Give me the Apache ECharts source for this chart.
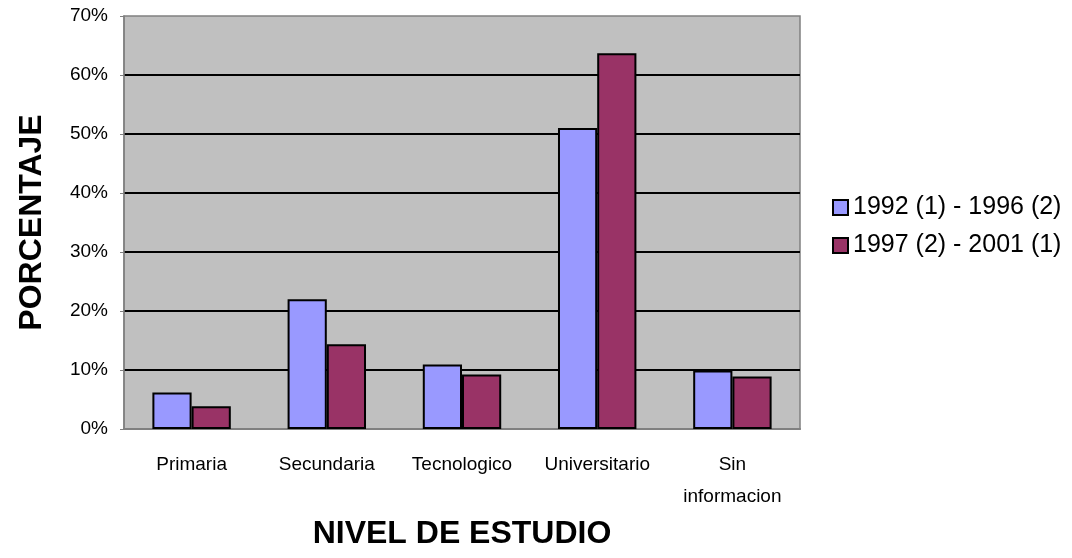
<!DOCTYPE html>
<html>
<head>
<meta charset="utf-8">
<script src="https://cdn.jsdelivr.net/npm/echarts@6/dist/echarts.min.js"></script>
<style>
html,body{margin:0;padding:0;background:#fff;}
#chart{width:1072px;height:558px;}
</style>
</head>
<body>
<div id="chart"></div>
<script>
var categories = ["Primaria", "Secundaria", "Tecnologico", "Universitario", "Sin\ninformacion"];
var seriesNames = ["1992 (1) - 1996 (2)", "1997 (2) - 2001 (1)"];
var periodo1 = [6.2, 22.0, 10.95, 51.0, 9.9];
var periodo2 = [3.85, 14.35, 9.25, 63.7, 8.9];
var yTicks = [0, 10, 20, 30, 40, 50, 60, 70];

var chart = echarts.init(document.getElementById("chart"));
chart.setOption({
    animation: false,
    textStyle: { fontFamily: "Liberation Sans, Arial, sans-serif" },
    grid: {
        left: 124,
        right: 272,
        top: 16,
        bottom: 129,
        show: true,
        backgroundColor: "#C0C0C0",
        borderColor: "#808080",
        borderWidth: 1.5
    },
    legend: {
        orient: "vertical",
        left: 827,
        top: 190,
        itemWidth: 15,
        itemHeight: 15,
        itemGap: 13,
        icon: "rect",
        textStyle: { fontSize: 25, color: "#000" },
        data: seriesNames
    },
    xAxis: {
        type: "category",
        data: categories,
        name: "NIVEL DE ESTUDIO",
        nameLocation: "middle",
        nameGap: 82,
        nameTextStyle: { fontSize: 32, fontWeight: "bold", color: "#000" },
        axisLine: { lineStyle: { color: "#808080", width: 2 } },
        axisTick: { show: false },
        axisLabel: { fontSize: 19, color: "#000", margin: 20, lineHeight: 32, interval: 0 }
    },
    yAxis: {
        type: "value",
        min: yTicks[0],
        max: yTicks[yTicks.length - 1],
        interval: 10,
        name: "PORCENTAJE",
        nameLocation: "middle",
        nameGap: 76,
        nameTextStyle: { fontSize: 32, fontWeight: "bold", color: "#000" },
        axisLine: { show: true, lineStyle: { color: "#808080", width: 1.5 } },
        axisTick: { show: true, length: 4, lineStyle: { color: "#808080" } },
        axisLabel: { fontSize: 19, color: "#000", margin: 16, formatter: "{value}%" },
        splitLine: { show: true, showMinLine: false, showMaxLine: false, lineStyle: { color: "#000", width: 2 } }
    },
    series: [
    {
        name: seriesNames[0],
        type: "bar",
        data: periodo1,
        barGap: "0%",
        barCategoryGap: "42%",
        itemStyle: { color: "#9999FF", borderColor: "#000", borderWidth: 2 }
    },
    {
        name: seriesNames[1],
        type: "bar",
        data: periodo2,
        itemStyle: { color: "#993366", borderColor: "#000", borderWidth: 2 }
    }]
});
</script>
</body>
</html>
